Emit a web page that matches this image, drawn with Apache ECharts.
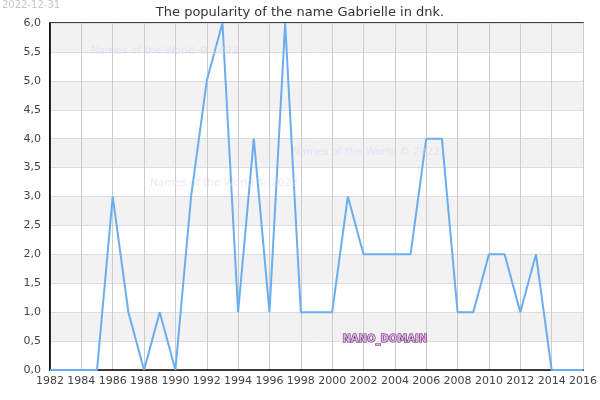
<!DOCTYPE html>
<html>
<head>
<meta charset="utf-8">
<script src="https://cdn.jsdelivr.net/npm/echarts@6/dist/echarts.min.js"></script>
<style>
  html, body { margin: 0; padding: 0; background: #fff; }
  #chart { width: 600px; height: 400px; }
</style>
</head>
<body>
<div id="chart"></div>
<script>
var years = [1982, 1983, 1984, 1985, 1986, 1987, 1988, 1989, 1990, 1991, 1992, 1993,
    1994, 1995, 1996, 1997, 1998, 1999, 2000, 2001, 2002, 2003, 2004, 2005,
    2006, 2007, 2008, 2009, 2010, 2011, 2012, 2013, 2014, 2015, 2016];
var counts = [0, 0, 0, 0, 3, 1, 0, 1, 0, 3, 5, 6,
    1, 4, 1, 6, 1, 1, 1, 3, 2, 2, 2, 2,
    4, 4, 1, 1, 2, 2, 1, 2, 0, 0, 0];
var titleText = 'The popularity of the name Gabrielle in dnk.';
var dateText = '2022-12-31';
var watermark = 'Names of the World © 2022';

var chartDom = document.getElementById('chart');
var myChart = echarts.init(chartDom);

var points = years.map(function (y, i) { return [y, counts[i]]; });

function wm(x, y) {
    return {
        type: 'text', left: x, top: y, z: 100,
        style: {text: watermark, fill: 'rgba(215,215,245,0.55)', font: '10.5px "DejaVu Sans"'}
    };
}

var option = {
    animation: false,
    backgroundColor: '#fff',
    textStyle: {fontFamily: 'DejaVu Sans'},
    title: {
        text: titleText,
        left: 'center',
        top: 1,
        textStyle: {fontSize: 13, fontWeight: 'normal', color: '#333'}
    },
    grid: {
        left: 50, right: 15, top: 23, bottom: 30,
        show: true,
        borderColor: '#000',
        borderWidth: 1.5
    },
    xAxis: {
        type: 'value',
        min: 1982, max: 2016, interval: 2,
        axisLine: {show: true, lineStyle: {color: '#000', width: 1.5}},
        axisTick: {show: false},
        axisLabel: {
            color: '#444', fontSize: 11, margin: 6,
            formatter: function (v) { return String(v); }
        },
        splitLine: {show: true, lineStyle: {color: '#ccc', width: 1}}
    },
    yAxis: {
        type: 'value',
        min: 0, max: 6, interval: 0.5,
        axisLine: {show: true, lineStyle: {color: '#000', width: 1.5}},
        axisTick: {show: false},
        axisLabel: {
            color: '#444', fontSize: 11, margin: 9,
            formatter: function (v) { return v.toFixed(1).replace('.', ','); }
        },
        splitLine: {show: true, lineStyle: {color: '#ddd', width: 1}},
        splitArea: {show: true, areaStyle: {color: ['#ffffff', '#f2f2f2']}}
    },
    series: [{
        type: 'line',
        data: points,
        symbol: 'none',
        lineStyle: {color: '#6aaef0', width: 2}
    }],
    graphic: [
        {type: 'text', left: 2, top: 0, z: 100, style: {text: dateText, fill: '#c8c8c8', font: '10px "DejaVu Sans"'}},
        wm(91, 46),
        wm(292, 147),
        wm(150, 178),
        {type: 'text', left: 342, top: 334, z: 100, style: {
            text: 'NANO_DOMAIN', fill: '#d8b0e0', stroke: '#5a1060', lineWidth: 1,
            font: 'bold 10px "DejaVu Sans"'
        }}
    ]
};

myChart.setOption(option);
</script>
</body>
</html>
